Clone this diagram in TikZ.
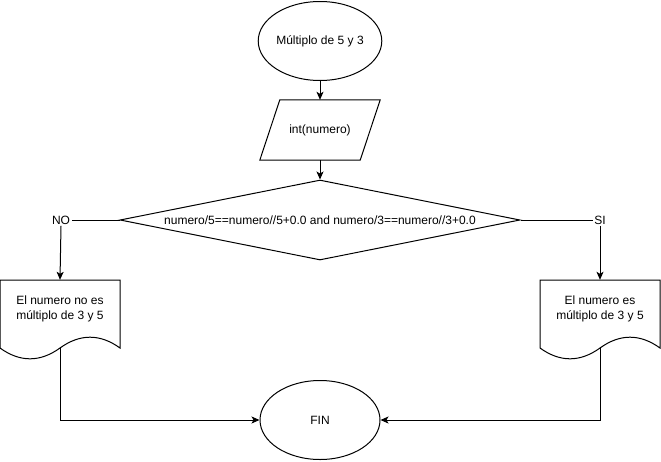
\documentclass[tikz,border=0pt]{standalone}
\usepackage{fontspec}
\setmainfont{Liberation Sans}
\usetikzlibrary{shapes.geometric,arrows.meta}

\tikzset{
  every node/.style={font=\fontsize{12}{15}\selectfont},
  line/.style={draw=black, line width=1pt},
  arrowline/.style={line, -{Stealth[length=8pt,width=7pt,inset=2pt]}},
  terminal/.style={ellipse, draw, line width=1pt, minimum width=120pt, minimum height=79pt, inner sep=0pt},
  iobox/.style={rectangle, draw=none, minimum width=100pt, minimum height=60pt, inner sep=0pt},
  decision/.style={diamond, aspect=5, draw, line width=1pt, minimum width=400pt, minimum height=80pt, inner sep=0pt},
  docframe/.style={rectangle, draw=none, minimum width=120pt, minimum height=80pt, inner sep=0pt},
  branchlabel/.style={inner sep=1.5pt, fill=white},
  docshape/.pic={
    \draw[line width=1pt, line join=miter]
      (-60,-40) -- (60,-40) -- (60,28)
      .. controls (40,13.6) and (20,13.6) .. (0,28)
      .. controls (-20,42.4) and (-40,42.4) .. (-60,28) -- cycle;
  }
}

\begin{document}
\begin{tikzpicture}[x=1pt, y=-1pt]
  \useasboundingbox (0,0) rectangle (661,461);

  % start / end terminals
  \node[terminal] (inicio) at (320,41) {Múltiplo de 5 y 3};
  \node[terminal] (fin) at (320,420) {FIN};

  % input (parallelogram slanted to the right)
  \node[iobox] (entrada) at (320,130) {int(numero)};
  \draw[line width=1pt, line join=miter]
    ([xshift=10pt]entrada.north west) -- ([xshift=10pt]entrada.north east)
    -- ([xshift=-10pt]entrada.south east) -- ([xshift=-10pt]entrada.south west) -- cycle;

  % decision
  \node[decision] (cond) at (320,220) {numero/5==numero//5+0.0 and numero/3==numero//3+0.0};

  % branch labels
  \node[branchlabel] (no) at (61,220) {NO};
  \node[branchlabel] (si) at (600,220) {SI};

  % output documents
  \node[docframe] (docno) at (60,320) {};
  \pic at (docno.center) {docshape};
  \node[align=center, inner sep=0pt] (txtno) at (60,309) {El numero no es\\múltiplo de 3 y 5};
  \coordinate (baseno) at (60,348);

  \node[docframe] (docsi) at (600,320) {};
  \pic at (docsi.center) {docshape};
  \node[align=center, inner sep=0pt] (txtsi) at (600,309) {El numero es\\múltiplo de 3 y 5};
  \coordinate (basesi) at (600,348);

  % connectors
  \draw[arrowline] (inicio.south) -- (entrada.north);
  \draw[arrowline] (entrada.south) -- (cond.north);
  \draw[line] (cond.west) -- (no.east);
  \draw[arrowline] (no.south) -- (docno.north);
  \draw[line] (cond.east) -- (si.west);
  \draw[arrowline] (si.south) -- (docsi.north);
  \draw[arrowline] (baseno) |- (fin.west);
  \draw[arrowline] (basesi) |- (fin.east);
\end{tikzpicture}
\end{document}
